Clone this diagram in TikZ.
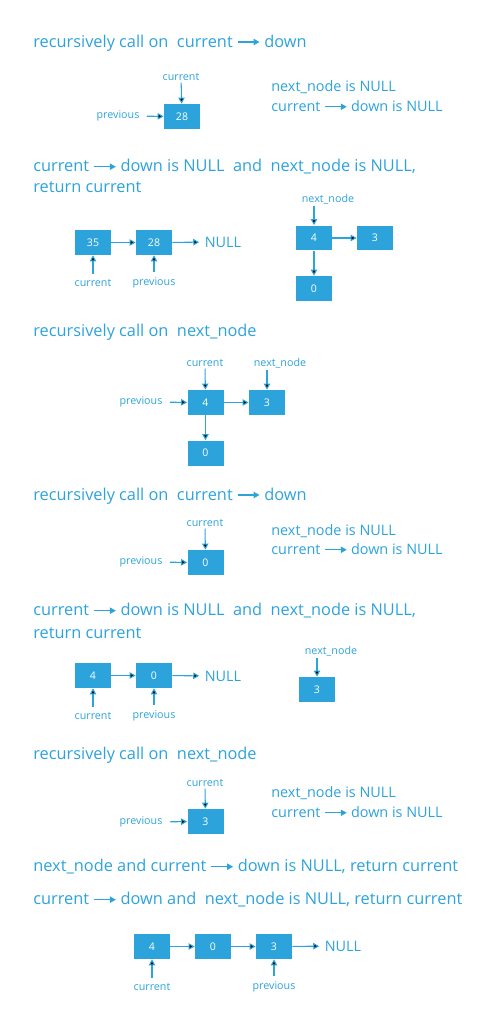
\documentclass[tikz,border=0pt]{standalone}
\usepackage{fontspec}
\setmainfont{Open Sans}
\usetikzlibrary{arrows.meta,positioning}
\definecolor{listblue}{RGB}{45,163,220}
% small arrow used inside the text lines
\newcommand{\tarrow}{\tikz[baseline=-0.6ex]\draw[listblue,line width=0.6pt,-{Triangle[length=3.4pt,width=3.6pt]}] (0pt,0pt) -- (12.5pt,0pt);}
\tikzset{
  elem/.style={fill=listblue, minimum width=0.72cm, minimum height=0.5cm, inner sep=0pt, text=white, font=\fontsize{6}{7}\selectfont},
  ptr/.style={text=listblue, font=\fontsize{6.1}{7}\selectfont, inner sep=1pt},
  headline/.style={text=listblue, font=\fontsize{9.3}{11}\selectfont, anchor=west, inner sep=0pt},
  infoline/.style={text=listblue, font=\fontsize{8.2}{10}\selectfont, anchor=west, inner sep=0pt},
  nulltext/.style={text=listblue, font=\fontsize{8.2}{10}\selectfont, inner sep=3pt},
  link/.style={draw=listblue, line width=0.6pt, -{Triangle[length=3.4pt,width=3.6pt]}}
}
\begin{document}
\begin{tikzpicture}[x=0.02cm, y=-0.02cm]
        \useasboundingbox (0,0) rectangle (500,1030);

        % step 1: call on current -> down
        \node[headline] (h1) at (33,43) {recursively call on\ \ current \tarrow\ down};
        \node[elem] (a28) at (182,116.5) {28};
        \node[ptr] (cur1) at (181,77) {current};
        \node[ptr] (prev1) at (118,116) {previous};
        \draw[link] (cur1) -- (a28);
        \draw[link, shorten <=3pt] (prev1) -- (a28);
        \node[infoline] (i1a) at (271,87) {next\_node is NULL};
        \node[infoline] (i1b) at (271,106) {current \tarrow\ down is NULL};

        % step 2: return current
        \node[headline] (h2a) at (33,167) {current \tarrow\ down is NULL\ \ and\ \ next\_node is NULL,};
        \node[headline] (h2b) at (33,187) {return current};
        \node[elem] (b35) at (93,242.5) {35};
        \node[elem] (b28) at (154,242.5) {28};
        \node[nulltext] (null2) at (223,242) {NULL};
        \draw[link] (b35) -- (b28);
        \draw[link] (b28) -- (null2);
        \node[ptr] (cur2) at (93,283) {current};
        \node[ptr] (prev2) at (154,283) {previous};
        \draw[link, shorten <=2pt] (cur2) -- (b35);
        \draw[link, shorten <=2pt] (prev2) -- (b28);
        \node[elem] (r4) at (314,238) {4};
        \node[elem] (r3) at (375,238) {3};
        \node[elem] (r0) at (314,288.5) {0};
        \node[ptr] (nn2) at (328,199) {next\_node};
        \draw[link] (r4) -- (r3);
        \draw[link] (r4) -- (r0);
        \draw[link] (r4.north |- nn2.south) -- (r4.north);

        % step 3: call on next_node
        \node[headline] (h3) at (33,332) {recursively call on\ \ next\_node};
        \node[elem] (c4) at (205.5,402.5) {4};
        \node[elem] (c3) at (267,402.5) {3};
        \node[elem] (c0) at (205.5,453) {0};
        \node[ptr] (cur3) at (205,363) {current};
        \node[ptr] (nn3) at (280,363) {next\_node};
        \node[ptr] (prev3) at (141,402) {previous};
        \draw[link] (c4) -- (c3);
        \draw[link] (c4) -- (c0);
        \draw[link] (cur3) -- (c4);
        \draw[link] (c3.north |- nn3.south) -- (c3.north);
        \draw[link, shorten <=3pt] (prev3) -- (c4);

        % step 4: call on current -> down
        \node[headline] (h4) at (33,496) {recursively call on\ \ current \tarrow\ down};
        \node[elem] (d0) at (205.5,562.5) {0};
        \node[ptr] (cur4) at (205,523) {current};
        \node[ptr] (prev4) at (141,562) {previous};
        \draw[link] (cur4) -- (d0);
        \draw[link, shorten <=3pt] (prev4) -- (d0);
        \node[infoline] (i4a) at (271,531) {next\_node is NULL};
        \node[infoline] (i4b) at (271,549) {current \tarrow\ down is NULL};

        % step 5: return current
        \node[headline] (h5a) at (33,611) {current \tarrow\ down is NULL\ \ and\ \ next\_node is NULL,};
        \node[headline] (h5b) at (33,633) {return current};
        \node[elem] (e4) at (93,675.5) {4};
        \node[elem] (e0) at (154,675.5) {0};
        \node[nulltext] (null5) at (223,676) {NULL};
        \draw[link] (e4) -- (e0);
        \draw[link] (e0) -- (null5);
        \node[ptr] (cur5) at (93,716) {current};
        \node[ptr] (prev5) at (154,716) {previous};
        \draw[link, shorten <=2pt] (cur5) -- (e4);
        \draw[link, shorten <=2pt] (prev5) -- (e0);
        \node[elem] (e3) at (317,689.5) {3};
        \node[ptr] (nn5) at (331,651) {next\_node};
        \draw[link] (e3.north |- nn5.south) -- (e3.north);

        % step 6: call on next_node
        \node[headline] (h6) at (33,755) {recursively call on\ \ next\_node};
        \node[elem] (f3) at (205.5,821.5) {3};
        \node[ptr] (cur6) at (205,783) {current};
        \node[ptr] (prev6) at (141,822) {previous};
        \draw[link] (cur6) -- (f3);
        \draw[link, shorten <=3pt] (prev6) -- (f3);
        \node[infoline] (i6a) at (271,793) {next\_node is NULL};
        \node[infoline] (i6b) at (271,812) {current \tarrow\ down is NULL};

        % step 7: final list
        \node[headline] (h7a) at (33,867) {next\_node and current \tarrow\ down is NULL, return current};
        \node[headline] (h7b) at (33,900) {current \tarrow\ down and\ \ next\_node is NULL, return current};
        \node[elem] (g4) at (152,946.5) {4};
        \node[elem] (g0) at (213,946.5) {0};
        \node[elem] (g3) at (274,946.5) {3};
        \node[nulltext] (null7) at (343,946) {NULL};
        \draw[link] (g4) -- (g0);
        \draw[link] (g0) -- (g3);
        \draw[link] (g3) -- (null7);
        \node[ptr] (cur7) at (152,987) {current};
        \node[ptr] (prev7) at (274,987) {previous};
        \draw[link, shorten <=2pt] (cur7) -- (g4);
        \draw[link, shorten <=2pt] (prev7) -- (g3);
\end{tikzpicture}
\end{document}
